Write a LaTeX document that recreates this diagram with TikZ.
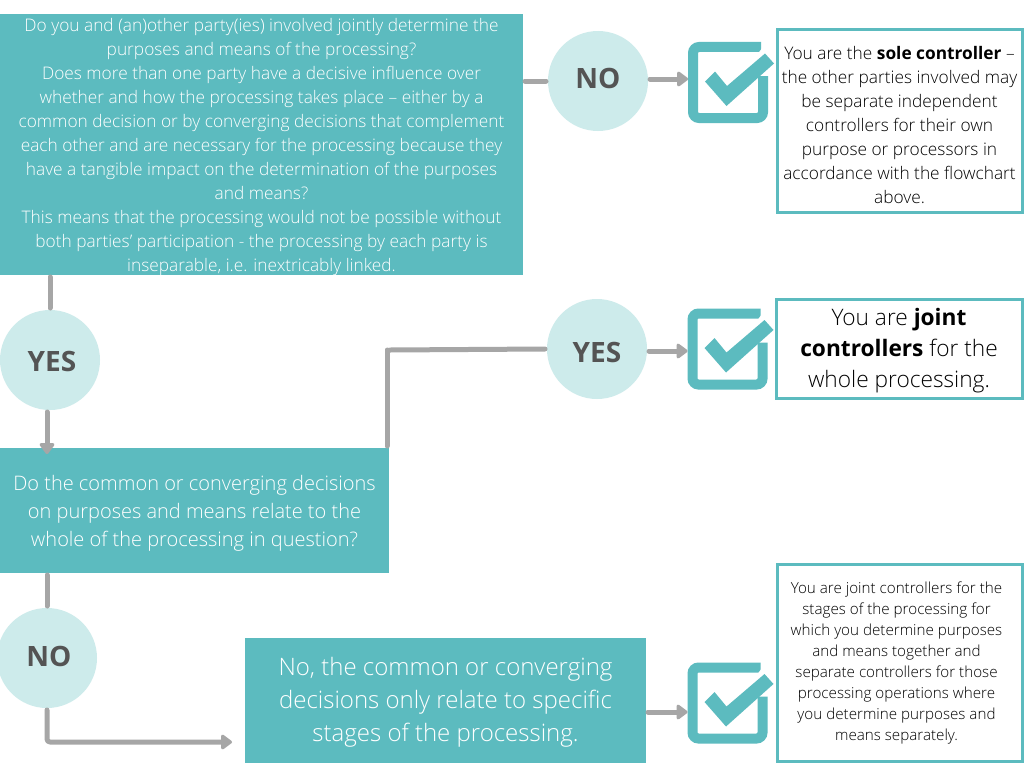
\documentclass[tikz,border=0pt]{standalone}
\usepackage{fontspec}
\setmainfont{Open Sans Light}[BoldFont=Open Sans Bold]
\usetikzlibrary{arrows.meta}
\definecolor{teal1}{HTML}{5CBBBF}
\definecolor{pale}{HTML}{CDEBEB}
\definecolor{ln}{HTML}{A6A6A6}
\definecolor{lab}{HTML}{545454}
\definecolor{ink}{HTML}{000000}
\newcommand{\tp}[1]{\rule{0pt}{#1pt}}
\newcommand{\lbl}[2]{\raisebox{#1pt}[0pt][0pt]{#2}}
\tikzset{
 x=1pt,y=-1pt,
 qbox/.style={fill=teal1,text=white,inner sep=0pt,align=center,outer sep=2pt},
 obox/.style={draw=teal1,line width=3pt,fill=white,text=ink,inner sep=0pt,align=center,minimum width=245pt},
 circ/.style={circle,fill=pale,text=lab,minimum size=100pt,inner sep=0pt,outer sep=2pt,font=\fontsize{28}{30}\selectfont\bfseries},
 chkbox/.style={minimum width=80pt,minimum height=81pt,inner sep=0pt,outer sep=0pt},
 conn/.style={draw=ln,line width=5pt,line cap=round,line join=round},
 arr/.style={conn,-{Triangle[round,length=12pt,width=17pt]}},
}
\newcommand{\checkicon}[3]{%
 \node[chkbox] (#1) at (#2,#3) {};
 \begin{scope}[shift={(#1.center)}]
  \draw[teal1,line width=10pt,rounded corners=6pt] (33,-35.5) -- (-35,-35.5) -- (-35,35.5) -- (35,35.5) -- (35,-6.5);
  \fill[white] (42,-45) -- (30,-29) -- (-1,-2) -- (-1,-5) -- (50,-10) -- cycle;
  \fill[teal1] (-23,-1) -- (-13,-11) -- (-1,3.5) -- (37,-29) -- (46,-19) -- (-1.5,23.5) -- cycle;
 \end{scope}}
\begin{document}
\begin{tikzpicture}
\useasboundingbox (0,0) rectangle (1024,768);
\fill[white] (0,0) rectangle (1024,768);
\node[qbox,minimum width=523pt,minimum height=261pt,font=\fontsize{17.3}{24}\selectfont] (q1) at (261.5,144.5) {\parbox[c][261pt][c]{523pt}{\centering\tp{19}Do you and (an)other party(ies) involved jointly determine the\\purposes and means of the processing?\\Does more than one party have a decisive influence over\\whether and how the processing takes place – either by a\\common decision or by converging decisions that complement\\each other and are necessary for the processing because they\\have a tangible impact on the determination of the purposes\\and means?\\This means that the processing would not be possible without\\both parties’ participation - the processing by each party is\\inseparable, i.e. inextricably linked.}};
\node[qbox,minimum width=389pt,minimum height=125pt,font=\fontsize{20}{28}\selectfont] (q2) at (194.5,510.5) {\tp{21}Do the common or converging decisions\\on purposes and means relate to the\\whole of the processing in question?};
\node[qbox,minimum width=401pt,minimum height=125pt,font=\fontsize{24}{33}\selectfont] (q3) at (445.5,700.5) {\tp{22}No, the common or converging\\decisions only relate to specific\\stages of the processing.};
\node[circ] (noA) at (598,81) {\lbl{-7}{NO}};
\node[circ] (yesA) at (597,349) {\lbl{-13}{YES}};
\node[circ] (yesB) at (50,360) {\hspace*{4pt}\lbl{-11}{YES}};
\node[circ] (noB) at (47,658) {\hspace*{4pt}\lbl{-8}{NO}};
\checkicon{c1}{728}{82.5}
\checkicon{c2}{727.5}{349}
\checkicon{c3}{727.5}{703}
\node[obox,minimum height=182pt,font=\fontsize{17.3}{24}\selectfont] (r1) at (899.5,121) {\tp{21}You are the \textbf{sole controller} –\\the other parties involved may\\be separate independent\\controllers for their own\\purpose or processors in\\accordance with the flowchart\\above.};
\node[obox,minimum height=99pt,minimum width=246pt,font=\fontsize{22.7}{31}\selectfont] (r2) at (899,348.5) {\tp{21}You are \textbf{joint}\\\textbf{controllers} for the\\whole processing.};
\node[obox,minimum height=197pt,font=\fontsize{15.2}{21}\selectfont] (r3) at (899.5,662.5) {\parbox[c][190pt][c]{235pt}{\centering\tp{13}You are joint controllers for the\\stages of the processing for\\which you determine purposes\\and means together and\\separate controllers for those\\processing operations where\\you determine purposes and\\means separately.}\hspace*{6pt}};
\draw[conn] (q1.east |- noA) -- (noA.west);
\draw[arr] ([yshift=2pt]noA.east) -- ([yshift=3.5pt]c1.west);
\draw[conn] (q1.south -| yesB) -- (yesB.north);
\draw[arr] ([xshift=-3pt]yesB.south) -- ([xshift=-3pt,yshift=-8pt]q2.north -| yesB);
\coordinate (bend) at (387,350);
\draw[conn] (q2.north -| bend) -- (bend);
\draw[conn] ([xshift=3pt]bend) -- (yesA.west);
\draw[arr] ([yshift=-2pt]yesA.east) -- ([yshift=-2pt]c2.west);
\draw[conn] (q2.south -| noB) -- (noB.north);
\draw[arr,rounded corners=3pt] (noB.south) |- ([yshift=-41.5pt,xshift=-11pt]q3.west);
\draw[arr] ([yshift=-11.5pt]q3.east) -- ([yshift=-9pt]c3.west);
\end{tikzpicture}
\end{document}
